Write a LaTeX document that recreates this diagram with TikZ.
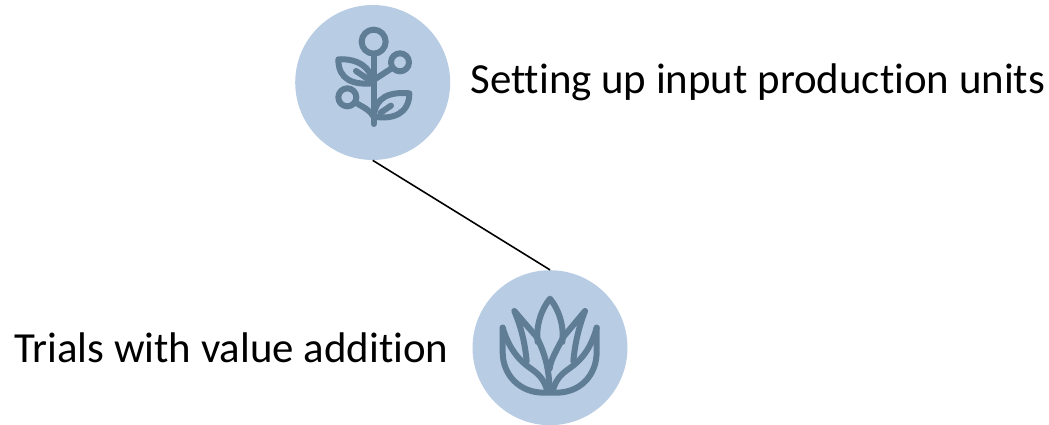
\documentclass[tikz,border=0pt]{standalone}
\usepackage{fontspec}
\setmainfont[Ligatures=NoCommon]{Carlito}
\definecolor{disc}{RGB}{184,204,228}
\definecolor{glyph}{RGB}{96,125,150}
\tikzset{
  badge/.style={circle,fill=disc,minimum size=3.1cm,inner sep=0pt},
  caption/.style={font=\fontsize{24.4}{30}\selectfont,inner sep=0pt,anchor=west},
  glyphline/.style={draw=glyph,line width=0.12cm,line cap=round,line join=round},
}

\begin{document}
\begin{tikzpicture}[x=0.02cm,y=-0.02cm]
  \useasboundingbox (0,0) rectangle (1049,425);

  \node[badge] (plant) at (372.7,82.5) {};
  \node[badge] (aloe) at (550,347.7) {};
  \draw[line width=0.9pt] (plant.south) -- (aloe.north);

  \node[caption] (plantlabel) at (470,82.5) {Setting up input production units};
  \node[caption] (aloelabel) at (14,347.5) {Trials with value addition};

  % plant glyph, traced in crop pixels
  \begin{scope}[shift={(290,0)},x=0.00667cm,y=-0.00667cm,glyphline]
    \draw (251,125) circle (36);
    \draw (330,187) circle (27);
    \draw (172,292) circle (27);
    \draw (251,161) -- (251,372);
    \draw (251,240) -- (305,205);
    \draw (251,350) .. controls (240,330) and (220,322) .. (197,308);
    \draw (145,178) .. controls (200,175) and (245,200) .. (248,250)
      .. controls (190,255) and (145,240) .. (145,178) -- cycle;
    \draw (198,213) -- (232,236);
    \draw (358,280) .. controls (300,275) and (255,290) .. (252,350)
      .. controls (310,360) and (358,340) .. (358,280) -- cycle;
    \draw (303,317) -- (272,338);
  \end{scope}

  % aloe glyph
  \begin{scope}[shift={(465,262)},x=0.00667cm,y=-0.00667cm,glyphline]
    \draw (113,197) -- (113,270) .. controls (113,340) and (165,392) .. (235,392)
      -- (275,392) .. controls (345,392) and (395,340) .. (395,270) -- (395,197);
    \draw (113,197) .. controls (135,270) and (170,300) .. (195,318)
      .. controls (220,335) and (235,350) .. (245,380);
    \draw (395,197) .. controls (375,270) and (340,300) .. (315,318)
      .. controls (290,335) and (275,350) .. (265,380);
    \draw (185,298) .. controls (180,245) and (170,200) .. (148,147)
      -- (215,225) .. controls (235,265) and (252,310) .. (254,385);
    \draw (325,298) .. controls (330,245) and (340,200) .. (360,147)
      -- (295,225) .. controls (275,265) and (258,290) .. (254,320);
    \draw (218,240) .. controls (212,190) and (230,140) .. (255,110)
      .. controls (280,140) and (298,190) .. (292,240);
  \end{scope}
\end{tikzpicture}
\end{document}
